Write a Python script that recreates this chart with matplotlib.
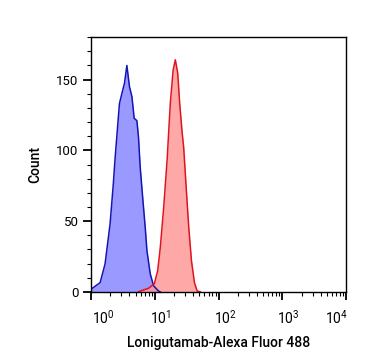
import matplotlib
matplotlib.use("Agg")
import matplotlib.pyplot as plt
import matplotlib.transforms as mtransforms
from matplotlib.ticker import FixedLocator, NullFormatter, MultipleLocator

plt.rcParams['font.family'] = ['Roboto', 'DejaVu Sans']
plt.rcParams['mathtext.fontset'] = 'custom'
plt.rcParams['mathtext.rm'] = 'Roboto'
plt.rcParams['mathtext.it'] = 'Roboto'

# isotype control (blue)
blue_x = [1.0, 1.39, 1.66, 1.99, 2.24, 2.39, 2.79, 3.04, 3.35, 3.65, 4.01, 4.38,
          4.75, 5.24, 5.56, 5.91, 6.52, 7.08, 7.54, 8.49, 9.58, 11.4, 12.2]
blue_y = [1.9, 6.6, 19.8, 48, 76.6, 95, 133, 140, 147.5, 160, 145, 138,
          122.7, 121, 109, 88, 64.5, 45.6, 29, 12.8, 4.3, 0.7, 0]

# Lonigutamab stained (red)
red_x = [5.56, 7.99, 9.82, 11.1, 12.2, 13.8, 15.6, 17.5, 19.4, 21.0, 22.9, 24.6,
         26.8, 28.4, 31.3, 34.1, 37.6, 41.9, 46.2, 52.1]
red_y = [0.2, 2.6, 5.7, 14.9, 31.4, 59.8, 93, 133, 156.7, 164, 154.5, 133,
         113, 102, 71.6, 45.6, 22, 6.6, 0.7, 0]

x_ticks = [1, 10, 100, 1000, 10000]
x_labels = [r'$10^{0}$', r'$10^{1}$', r'$10^{2}$', r'$10^{3}$', r'$10^{4}$']

fig = plt.figure(figsize=(3.67, 3.64), dpi=100)
ax = fig.add_axes([0.248, 0.198, 0.695, 0.700])

ax.fill_between(blue_x, blue_y, 0, color='#9999ff', lw=0)
ax.fill_between(red_x, red_y, 0, color='#ff9999', alpha=0.85, lw=0)
ax.plot(blue_x, blue_y, color='#1414b4', lw=1.1)
ax.plot(red_x, red_y, color='#e0141e', lw=1.1)

ax.set_xscale('log')
ax.set_xlim(1, 1e4)
ax.set_ylim(0, 180)

ax.set_xticks(x_ticks)
ax.set_xticklabels(x_labels)
ax.xaxis.set_minor_locator(FixedLocator([m * 10**d for d in range(4) for m in range(2, 10)]))
ax.xaxis.set_minor_formatter(NullFormatter())
ax.yaxis.set_major_locator(MultipleLocator(50))
ax.yaxis.set_minor_locator(MultipleLocator(10))

ax.tick_params(which='major', direction='out', length=6, width=1.3)
ax.tick_params(axis='y', which='major', labelsize=9.5, pad=3)
ax.tick_params(axis='x', which='major', labelsize=10, pad=6)
ax.tick_params(which='minor', direction='out', length=3, width=0.8)
for s in ax.spines.values():
    s.set_linewidth(1.0)

# nudge tick labels like the cytometry software does
x_shift = [12, 6, 7, 6, -10]
for lab, dx in zip(ax.get_xticklabels(), x_shift):
    lab.set_transform(lab.get_transform() +
                      mtransforms.ScaledTranslation(dx / 100, 0, fig.dpi_scale_trans))
ylabs = ax.get_yticklabels()
ylabs[0].set_transform(ylabs[0].get_transform() +
                       mtransforms.ScaledTranslation(0, 5 / 100, fig.dpi_scale_trans))

ax.set_ylabel('Count', fontsize=10, fontweight='medium', labelpad=10)
ax.set_xlabel('Lonigutamab-Alexa Fluor 488', fontsize=10, fontweight='medium', labelpad=7)

fig.savefig('out.png', dpi=100)
